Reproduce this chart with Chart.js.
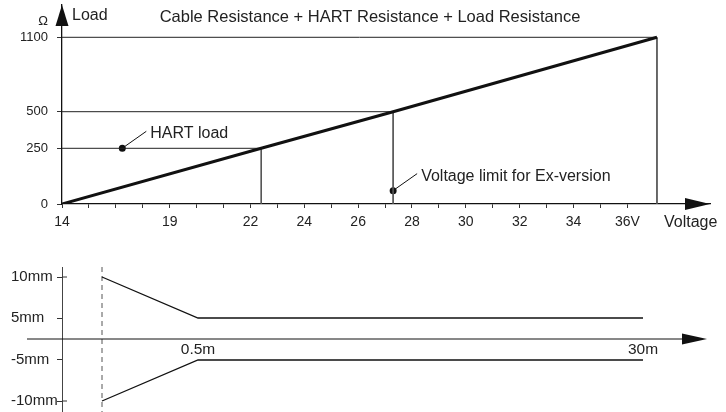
<!DOCTYPE html>
<html>
<head>
<meta charset="utf-8">
<script src="https://cdn.jsdelivr.net/npm/chart.js@4.4.1/dist/chart.umd.min.js"></script>
<style>
  html, body { margin: 0; padding: 0; background: #fff; }
  #wrap { position: relative; width: 726px; height: 412px; overflow: hidden; }
  canvas { position: absolute; left: 0; }
  #loadChart { top: 0; }
  #gapChart { top: 240px; }
</style>
</head>
<body>
<div id="wrap">
  <canvas id="loadChart" width="726" height="240"></canvas>
  <canvas id="gapChart" width="726" height="172"></canvas>
</div>
<script>
// top diagram: permitted load vs supply voltage
const voltLabels = ['14', '19', '22', '24', '26', '28', '30', '32', '34', '36V'];
const voltLabelValues = [14, 19, 22, 24, 26, 28, 30, 32, 34, 36];
const ohmLabels = [0, 250, 500, 1100];
const loadVolts = [14, 22.4, 27.3, 37.1];
const loadOhms = [0, 250, 500, 1100];
const noteVolts = [16.8, 27.3];
const noteOhms = [250, 60];
const noteTexts = ['HART load', 'Voltage limit for Ex-version'];

// bottom diagram: distance vs distance
const distM = [0, 0.5, 30];
const upperMm = [10, 5, 5];
const lowerMm = [-10, -5, -5];
const mmLabels = [10, 5, -5, -10];
const distLabels = ['0.5m', '30m'];
const distLabelValues = [0.5, 30];

const FONT = '"Liberation Sans", Arial, sans-serif';

// the drawings are schematic: the axes are not to scale, so values go
// through these piecewise maps before they reach the linear scales
function interp(stops, v) {
  for (let i = 1; i < stops.length; i++) {
    const [a0, b0] = stops[i - 1];
    const [a1, b1] = stops[i];
    if (v <= a1 || i === stops.length - 1) return b0 + (v - a0) * (b1 - b0) / (a1 - a0);
  }
}
const vPos = v => interp([[14, 0], [19, 4], [40, 25]], v);
const ohmPos = o => interp([[0, 0], [250, 55.7], [500, 92.3], [1100, 166.7]], o);
const mPos = m => interp([[0, 40], [0.5, 136], [30, 581]], m);
const mmPos = mm => interp([[-10, -62], [-5, -21], [0, 0], [5, 21], [10, 62]], mm);

const loadLine = loadVolts.map((v, i) => ({ x: vPos(v), y: ohmPos(loadOhms[i]) }));
const hGuides = [], vGuides = [];
loadVolts.forEach((v, i) => {
  if (i === 0) return;
  const y = ohmPos(loadOhms[i]);
  hGuides.push({ x: 0, y }, { x: vPos(v), y }, { x: vPos(v), y: null });
  vGuides.push({ x: vPos(v), y }, { x: vPos(v), y: 0 }, { x: vPos(v), y: null });
});
const notePoints = noteVolts.map((v, i) => ({ x: vPos(v), y: ohmPos(noteOhms[i]) }));

const loadDecor = {
  id: 'loadDecor',
  afterDraw(chart) {
    const { ctx, chartArea: a } = chart;
    ctx.save();
    ctx.fillStyle = '#111';
    ctx.beginPath();
    ctx.moveTo(a.left, a.top);
    ctx.lineTo(a.left - 6.5, a.top + 21);
    ctx.lineTo(a.left + 6.5, a.top + 21);
    ctx.fill();
    ctx.beginPath();
    ctx.moveTo(a.right, a.bottom);
    ctx.lineTo(a.right - 25, a.bottom - 6);
    ctx.lineTo(a.right - 25, a.bottom + 6);
    ctx.fill();

    ctx.fillStyle = '#222';
    ctx.font = '16.5px ' + FONT;
    ctx.textAlign = 'center';
    ctx.fillText('Cable Resistance + HART Resistance + Load Resistance', 370, 22);
    ctx.textAlign = 'left';
    ctx.font = '16px ' + FONT;
    ctx.fillText('Load', a.left + 10, 20);
    ctx.fillText('Voltage', a.right - 46, 227);
    ctx.font = '13px ' + FONT;
    ctx.textAlign = 'center';
    ctx.fillText('Ω', 43, 25);

    ctx.textAlign = 'left';
    ctx.font = '16px ' + FONT;
    ctx.strokeStyle = '#111';
    ctx.lineWidth = 1;
    chart.getDatasetMeta(3).data.forEach((pt, i) => {
      ctx.beginPath();
      ctx.moveTo(pt.x + 2, pt.y - 1.5);
      ctx.lineTo(pt.x + 24, pt.y - 17);
      ctx.stroke();
      ctx.fillText(noteTexts[i], pt.x + 28, pt.y - 10);
    });
    ctx.restore();
  }
};

new Chart(document.getElementById('loadChart'), {
  type: 'line',
  data: {
    datasets: [
      { data: loadLine, borderColor: '#111', borderWidth: 3, pointRadius: 0 },
      { data: hGuides, borderColor: '#222', borderWidth: 1, pointRadius: 0 },
      { data: vGuides, borderColor: '#555', borderWidth: 1, pointRadius: 0 },
      { data: notePoints, showLine: false, pointRadius: 3.5, pointBackgroundColor: '#111', pointBorderWidth: 0 }
    ]
  },
  options: {
    responsive: false,
    animation: false,
    events: [],
    layout: { padding: { left: 0, right: 16, top: 5, bottom: 0 } },
    plugins: { legend: { display: false }, tooltip: { enabled: false } },
    scales: {
      x: {
        type: 'linear', min: 0, max: 24.07,
        afterFit: s => { s.height = 36; s.paddingLeft = 0; s.paddingRight = 0; },
        afterBuildTicks: s => { s.ticks = Array.from({ length: 22 }, (_, i) => ({ value: i })); },
        grid: { drawOnChartArea: false, tickLength: 4, color: '#333' },
        border: { color: '#111', width: 1.3 },
        ticks: {
          autoSkip: false, maxRotation: 0, padding: 6, color: '#222',
          font: { family: FONT, size: 14 },
          callback: v => {
            const j = voltLabelValues.findIndex(lv => Math.abs(vPos(lv) - v) < 0.01);
            return j < 0 ? '' : voltLabels[j];
          }
        }
      },
      y: {
        type: 'linear', min: 0, max: 199,
        afterFit: s => { s.width = 62; s.paddingTop = 0; s.paddingBottom = 0; },
        afterBuildTicks: s => { s.ticks = ohmLabels.map(o => ({ value: ohmPos(o) })); },
        grid: { drawOnChartArea: false, tickLength: 5, color: '#333' },
        border: { color: '#111', width: 1.3 },
        ticks: {
          padding: 9, color: '#222', font: { family: FONT, size: 13 },
          callback: (v, i) => String(ohmLabels[i])
        }
      }
    }
  },
  plugins: [loadDecor]
});

const gapDecor = {
  id: 'gapDecor',
  beforeDatasetsDraw(chart) {
    const { ctx, chartArea: a, scales: { x, y } } = chart;
    const y0 = y.getPixelForValue(0);
    const xd = x.getPixelForValue(mPos(distM[0]));
    ctx.save();
    ctx.strokeStyle = '#555';
    ctx.lineWidth = 1;
    ctx.setLineDash([5, 4]);
    ctx.beginPath();
    ctx.moveTo(xd, a.top);
    ctx.lineTo(xd, a.bottom);
    ctx.stroke();
    ctx.setLineDash([]);
    ctx.strokeStyle = '#111';
    ctx.beginPath();
    ctx.moveTo(a.left - 35, y0);
    ctx.lineTo(a.right - 20, y0);
    ctx.stroke();
    // outer ticks cross the axis
    ctx.strokeStyle = '#333';
    [mmLabels[0], mmLabels[mmLabels.length - 1]].forEach(mm => {
      const py = y.getPixelForValue(mmPos(mm));
      ctx.beginPath();
      ctx.moveTo(a.left, py);
      ctx.lineTo(a.left + 5, py);
      ctx.stroke();
    });
    ctx.fillStyle = '#111';
    ctx.beginPath();
    ctx.moveTo(a.right, y0);
    ctx.lineTo(a.right - 25, y0 - 5.5);
    ctx.lineTo(a.right - 25, y0 + 5.5);
    ctx.fill();
    ctx.restore();
  }
};

new Chart(document.getElementById('gapChart'), {
  type: 'line',
  data: {
    datasets: [
      { data: distM.map((m, i) => ({ x: mPos(m), y: mmPos(upperMm[i]) })), borderColor: '#111', borderWidth: 1.3, pointRadius: 0 },
      { data: distM.map((m, i) => ({ x: mPos(m), y: mmPos(lowerMm[i]) })), borderColor: '#111', borderWidth: 1.3, pointRadius: 0 }
    ]
  },
  options: {
    responsive: false,
    animation: false,
    events: [],
    layout: { padding: { left: 11, right: 19, top: 27, bottom: 0 } },
    plugins: { legend: { display: false }, tooltip: { enabled: false } },
    scales: {
      x: {
        type: 'linear', min: 0, max: 645, position: { y: 0 },
        afterFit: s => { s.height = 0; s.paddingLeft = 0; s.paddingRight = 0; },
        afterBuildTicks: s => { s.ticks = distLabelValues.map(m => ({ value: mPos(m) })); },
        grid: { display: false, drawTicks: false },
        border: { display: false },
        ticks: {
          autoSkip: false, maxRotation: 0, padding: 1, color: '#222',
          font: { family: FONT, size: 15.5 },
          callback: (v, i) => distLabels[i]
        }
      },
      y: {
        type: 'linear', min: -73, max: 72,
        afterFit: s => { s.width = 51; s.paddingTop = 0; s.paddingBottom = 0; },
        afterBuildTicks: s => { s.ticks = mmLabels.map(mm => ({ value: mmPos(mm) })); },
        grid: { drawOnChartArea: false, tickLength: 5, color: '#333' },
        border: { color: '#444', width: 1 },
        ticks: {
          crossAlign: 'far', padding: 2, color: '#222', font: { family: FONT, size: 15 },
          callback: (v, i) => mmLabels[i] + 'mm'
        }
      }
    }
  },
  plugins: [gapDecor]
});
</script>
</body>
</html>
